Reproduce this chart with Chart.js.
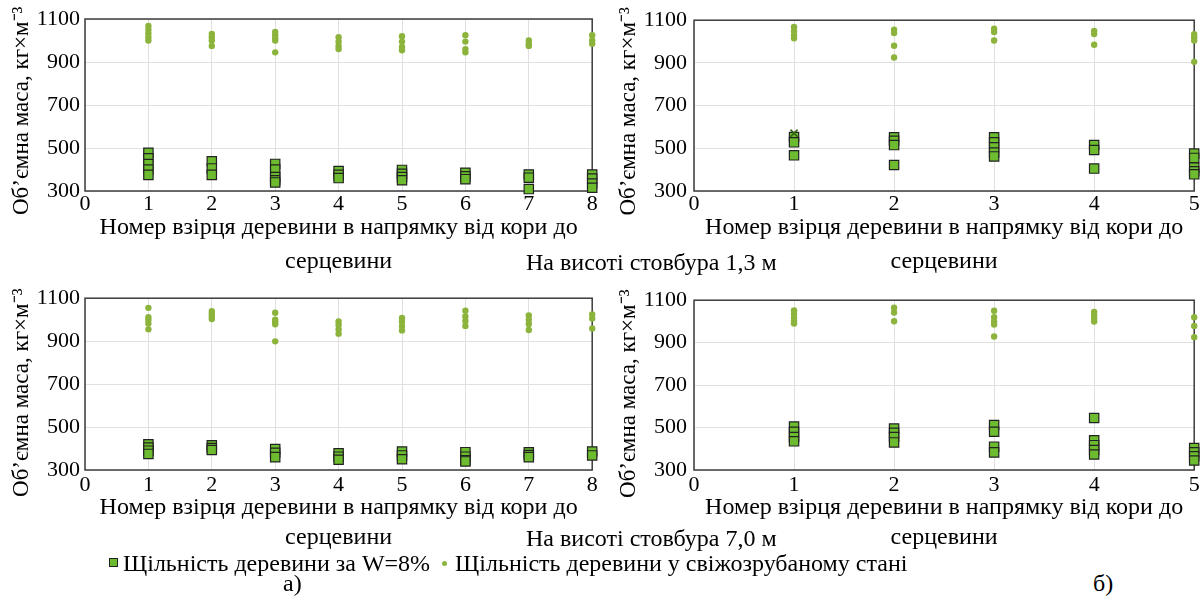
<!DOCTYPE html>
<html lang="uk">
<head>
<meta charset="utf-8">
<script src="https://cdn.jsdelivr.net/npm/chart.js@4.4.1/dist/chart.umd.min.js"></script>
<style>
  html, body { margin: 0; padding: 0; background: #fff; }
  body { width: 1202px; height: 598px; position: relative; overflow: hidden;
         font-family: "Liberation Serif", "Times New Roman", serif; color: #000; }
  .panel { position: absolute; }
  .txt { position: absolute; font-size: 24px; line-height: 26px; white-space: nowrap; }
  .legend { position: absolute; left: 109px; top: 550px; font-size: 24px; line-height: 26px; white-space: nowrap; }
  .mk-sq { display: inline-block; width: 7px; height: 7px; background: #6dbb2f; border: 1px solid #222; margin-right: 5px; vertical-align: 4px; }
  .mk-dot { display: inline-block; width: 5px; height: 5px; border-radius: 50%; background: #8cb43c; margin: 0 8px 0 12px; vertical-align: 5px; }
</style>
</head>
<body>
<div class="panel" style="left:0;top:0"><canvas id="chA" width="600" height="280"></canvas></div>
<div class="panel" style="left:600px;top:0"><canvas id="chB" width="602" height="280"></canvas></div>
<div class="panel" style="left:0;top:280px"><canvas id="chC" width="600" height="273"></canvas></div>
<div class="panel" style="left:600px;top:280px"><canvas id="chD" width="602" height="273"></canvas></div>

<div class="txt" id="noteTop" style="left:526px;top:249px"></div>
<div class="txt" id="noteBottom" style="left:526px;top:525px"></div>
<div class="legend" id="legend"></div>
<div class="txt" style="left:283px;top:570px">а)</div>
<div class="txt" style="left:1093px;top:570px">б)</div>

<script>
// ---- Дані ----
const samples8 = [1, 2, 3, 4, 5, 6, 7, 8];
const samples5 = [1, 2, 3, 4, 5];
const yTicks = [300, 500, 700, 900, 1100];

const seriesNames = ['Щільність деревини за W=8%', 'Щільність деревини у свіжозрубаному стані'];
const yTitle = 'Об’ємна маса, кг×м⁻³';
const xTitle = ['Номер взірця деревини в напрямку від кори до', 'серцевини'];
const heightNotes = ['На висоті стовбура 1,3 м', 'На висоті стовбура 7,0 м'];

// а) 1,3 м
const dryA = [
  [478, 452, 425, 400, 375],
  [438, 405, 375],
  [426, 400, 365, 350, 340],
  [393, 375, 360],
  [398, 380, 365, 350],
  [385, 368, 355],
  [377, 362, 309],
  [377, 358, 335, 315]
];
const freshA = [
  [1068, 1050, 1033, 1015, 1000],
  [1030, 1015, 1000, 975],
  [1040, 1025, 1010, 1000, 945],
  [1015, 995, 975, 960],
  [1020, 995, 970, 955],
  [1025, 995, 960, 945],
  [1000, 985, 975],
  [1025, 1000, 985]
];
// б) 1,3 м
const dryB = [
  [553, 528, 467],
  [552, 535, 515, 422],
  [552, 528, 505, 480, 462],
  [515, 492, 405],
  [475, 455, 410, 392, 378]
];
const freshB = [
  [1068, 1048, 1030, 1015],
  [1055, 1040, 980, 925],
  [1060, 1045, 1005],
  [1050, 1035, 985],
  [1035, 1020, 1005, 905]
];
const crossB = [571]; // окремий маркер на взірці 1

// а) 7,0 м
const dryC = [
  [420, 405, 390, 375],
  [415, 402, 393],
  [398, 380, 360],
  [378, 362, 348],
  [386, 368, 350],
  [383, 362, 345, 340],
  [382, 370, 360],
  [386, 368]
];
const freshC = [
  [1055, 1012, 1000, 982, 955],
  [1040, 1028, 1015, 1003],
  [1032, 1000, 990, 979, 899],
  [992, 975, 955, 935],
  [1008, 990, 970, 950],
  [1042, 1015, 994, 971],
  [1020, 1000, 980, 952],
  [1024, 1005, 959]
];
// б) 7,0 м
const dryD = [
  [505, 480, 455, 435],
  [495, 475, 455, 430],
  [512, 480, 410, 383],
  [545, 440, 417, 394, 373],
  [403, 383, 365, 345]
];
const freshD = [
  [1052, 1035, 1017, 1002, 990],
  [1065, 1042, 1001],
  [1050, 1020, 1000, 985, 929],
  [1045, 1030, 1015, 1000],
  [1020, 979, 926]
];

// ---- Кольори ----
const SQ_FILL = '#6dbb2f', SQ_LINE = '#222', DOT = '#8cb43c';
const FONT = 'Liberation Serif';

const pts = (xs, groups) => groups.flatMap((g, i) => g.map(v => ({x: xs[i], y: v})));

// рамка навколо області побудови
const frame = {
  id: 'frame',
  beforeDatasetsDraw(chart) {
    const {ctx, chartArea: a} = chart;
    ctx.save();
    ctx.strokeStyle = '#3c3c3c';
    ctx.lineWidth = 1.5;
    ctx.strokeRect(a.left, a.top, a.right - a.left, a.bottom - a.top);
    ctx.restore();
  }
};

function makeChart(id, xs, dry, fresh, lay, extra) {
  const datasets = [
    { label: seriesNames[1], data: pts(xs, fresh), pointStyle: 'circle', pointRadius: 3.2,
      backgroundColor: DOT, borderColor: DOT, borderWidth: 0, clip: false },
    { label: seriesNames[0], data: pts(xs, dry), pointStyle: 'rect', pointRadius: 6.6,
      backgroundColor: SQ_FILL, borderColor: SQ_LINE, borderWidth: 1.2, clip: false }
  ];
  if (extra) datasets.push(extra);
  return new Chart(document.getElementById(id), {
    type: 'scatter',
    data: { datasets },
    options: {
      responsive: false,
      animation: false,
      events: [],
      layout: { padding: { top: lay.top, right: lay.right, left: 0, bottom: 0 } },
      plugins: { legend: { display: false }, tooltip: { enabled: false } },
      scales: {
        x: {
          type: 'linear', min: 0, max: xs.length,
          afterFit: s => { s.height = lay.xh; },
          ticks: { stepSize: 1, color: '#000', padding: lay.xpad, callback: v => String(v),
                   font: { family: FONT, size: 22, lineHeight: 1.2 } },
          grid: { color: '#e0e0e0', lineWidth: 1, drawTicks: false },
          border: { display: false },
          title: { display: true, text: xTitle, color: '#000', padding: { top: 0, bottom: lay.tpb },
                   font: { family: FONT, size: 24, lineHeight: lay.tlh } }
        },
        y: {
          min: 300, max: 1100,
          afterFit: s => { s.width = lay.yw; },
          afterBuildTicks: s => { s.ticks = yTicks.map(v => ({value: v})); },
          ticks: { color: '#000', padding: lay.ypad, callback: v => String(v),
                   font: { family: FONT, size: 22, lineHeight: 1.2 } },
          grid: { color: '#e0e0e0', lineWidth: 1, drawTicks: false },
          border: { display: false },
          // кінцеві пробіли трохи зсувають підпис донизу, як в оригіналі
          title: { display: true, text: yTitle + lay.ysp, color: '#000', padding: { top: lay.ytp, bottom: 0 },
                   font: { family: FONT, size: 23, lineHeight: 1.2 } }
        }
      }
    },
    plugins: [frame]
  });
}

const layTopL = { top: 19, right: 7, xh: 89, xpad: 0, tpb: 1, tlh: 34 / 24, yw: 85, ypad: 5, ytp: 8, ysp: '\u00A0\u00A0' };
const layTopR = { top: 19, right: 6, xh: 89, xpad: 0, tpb: 1, tlh: 34 / 24, yw: 94, ypad: 7, ytp: 15, ysp: '\u00A0\u00A0' };
const layBotL = { top: 14, right: 7, xh: 83, xpad: 2, tpb: 0, tlh: 30 / 24, yw: 85, ypad: 5, ytp: 8, ysp: '\u00A0\u00A0\u00A0' };
const layBotR = { top: 14, right: 6, xh: 83, xpad: 2, tpb: 0, tlh: 30 / 24, yw: 94, ypad: 7, ytp: 15, ysp: '\u00A0\u00A0\u00A0' };

makeChart('chA', samples8, dryA, freshA, layTopL);
makeChart('chB', samples5, dryB, freshB, layTopR, {
  label: 'маркер', data: crossB.map(v => ({x: 1, y: v})), pointStyle: 'crossRot', order: -1,
  pointRadius: 5, borderColor: '#2f5f12', borderWidth: 1.5, clip: false
});
makeChart('chC', samples8, dryC, freshC, layBotL);
makeChart('chD', samples5, dryD, freshD, layBotR);

// ---- Підписи та легенда ----
document.getElementById('noteTop').textContent = heightNotes[0];
document.getElementById('noteBottom').textContent = heightNotes[1];
document.getElementById('legend').innerHTML =
  `<span class="mk-sq"></span>${seriesNames[0]}<span class="mk-dot"></span>${seriesNames[1]}`;
</script>
</body>
</html>
